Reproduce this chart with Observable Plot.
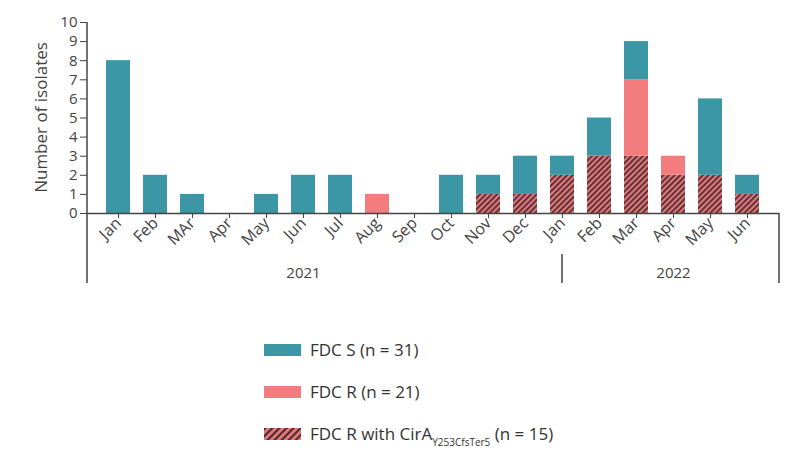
<!DOCTYPE html>
<html>
<head>
<meta charset="utf-8">
<script src="https://cdn.jsdelivr.net/npm/d3@7"></script>
<script src="https://cdn.jsdelivr.net/npm/@observablehq/plot@0.6"></script>
<style>
  html, body { margin: 0; padding: 0; background: #fff; }
  #chart { width: 800px; }
  .legend { position: relative; height: 168px; font-family: "Open Sans", sans-serif; font-size: 17px; color: #333; }
  .item { position: absolute; left: 264px; display: flex; align-items: center; }
  .sw { width: 37px; height: 12px; margin-right: 9px; }
  sub { font-size: 10px; vertical-align: -6px; line-height: 0; }
</style>
</head>
<body>
<div id="chart"></div>
<div class="legend" id="legend"></div>
<script>
const months = ["Jan","Feb","MAr","Apr","May","Jun","Jul","Aug","Sep","Oct","Nov","Dec","Jan","Feb","Mar","Apr","May","Jun"];
const years  = ["2021","2021","2021","2021","2021","2021","2021","2021","2021","2021","2021","2021","2022","2022","2022","2022","2022","2022"];
const fdcS    = [8,2,1,0,1,2,2,0,0,2,1,2,1,2,2,0,4,1];
const fdcR    = [0,0,0,0,0,0,0,1,0,0,0,0,0,0,4,1,0,0];
const fdcRcir = [0,0,0,0,0,0,0,0,0,0,1,1,2,3,3,2,2,1];
const series = ["FDC R with CirA", "FDC R", "FDC S"];
const seriesColors = ["url(#hatch)", "#f27c7e", "#3b96a6"];
const yTicks = [0,1,2,3,4,5,6,7,8,9,10];
const yearLabels = [{year: "2021", at: "2021-Jun"}, {year: "2022", at: "2022-Apr"}];
const legendItems = [
  {label: "FDC S (n = 31)", color: "#3b96a6"},
  {label: "FDC R (n = 21)", color: "#f27c7e"},
  {label: "FDC R with CirA<sub>Y253CfsTer5</sub> (n = 15)", color: "hatch"}
];

const keys = months.map((m, i) => years[i] + "-" + m);
const rows = [];
keys.forEach((k, i) => {
  rows.push({key: k, series: series[0], value: fdcRcir[i]});
  rows.push({key: k, series: series[1], value: fdcR[i]});
  rows.push({key: k, series: series[2], value: fdcS[i]});
});

const plot = Plot.plot({
  width: 800,
  height: 300,
  marginLeft: 87,
  marginRight: 21,
  marginTop: 22,
  marginBottom: 87,
  style: {fontFamily: "'Open Sans', sans-serif", fontSize: "15px", color: "#444"},
  x: {domain: keys, padding: 0.35, label: null},
  y: {domain: [0, 10], label: null},
  color: {domain: series, range: seriesColors},
  marks: [
    Plot.barY(rows, {x: "key", y: "value", fill: "series", order: series}),
    Plot.ruleY([0], {stroke: "#444", strokeWidth: 1.5}),
    Plot.axisY({ticks: yTicks, tickSize: 7, tickPadding: 3, fontSize: 15, stroke: "#444", label: null}),
    Plot.axisX({tickSize: 5, tickRotate: -45, tickPadding: 2, fontSize: 16, tickFormat: d => d.split("-")[1], stroke: "#444", label: null}),
    Plot.text(yearLabels, {x: "at", text: "year", frameAnchor: "bottom", dy: 64, fontSize: 15, fill: "#444", letterSpacing: "1.5px"})
  ]
});

document.getElementById("chart").appendChild(plot);
const svg = d3.select(plot);
const defs = svg.insert("defs", ":first-child");
const pat = defs.append("pattern").attr("id", "hatch").attr("patternUnits", "userSpaceOnUse")
  .attr("width", 4).attr("height", 4).attr("patternTransform", "rotate(45)");
pat.append("rect").attr("width", 4).attr("height", 4).attr("fill", "#e0777a");
pat.append("rect").attr("width", 1.7).attr("height", 4).attr("fill", "#4a2a2c");

const sx = plot.scale("x");
const sy = plot.scale("y");
const bw = sx.bandwidth;
const y0 = sy.apply(0), yTop = sy.apply(10);
const left = 87, right = 800 - 21, bottom = y0 + 70;
const g = svg.append("g").attr("stroke", "#444").attr("stroke-width", 1.5);
g.append("line").attr("x1", left).attr("x2", left).attr("y1", yTop).attr("y2", bottom);
g.append("line").attr("x1", right).attr("x2", right).attr("y1", y0).attr("y2", bottom);
const xd = sx.apply("2022-Jan") + bw / 2;
g.append("line").attr("x1", xd).attr("x2", xd).attr("y1", y0 + 41).attr("y2", bottom);
svg.append("text").attr("transform", `translate(47,${(y0 + yTop) / 2}) rotate(-90)`)
  .attr("text-anchor", "middle").attr("font-size", 17).attr("fill", "#444").text("Number of isolates");

const lg = document.getElementById("legend");
legendItems.forEach((it, i) => {
  const d = document.createElement("div");
  d.className = "item";
  d.style.top = (38 + i * 42) + "px";
  const sw = it.color === "hatch"
    ? `<svg class="sw" width="37" height="12"><defs><pattern id="hatch2" patternUnits="userSpaceOnUse" width="5" height="5" patternTransform="rotate(45)"><rect width="5" height="5" fill="#e0777a"/><rect width="2" height="5" fill="#4a2a2c"/></pattern></defs><rect width="37" height="12" fill="url(#hatch2)"/></svg>`
    : `<div class="sw" style="background:${it.color}"></div>`;
  d.innerHTML = sw + `<span>${it.label}</span>`;
  lg.appendChild(d);
});
</script>
</body>
</html>
